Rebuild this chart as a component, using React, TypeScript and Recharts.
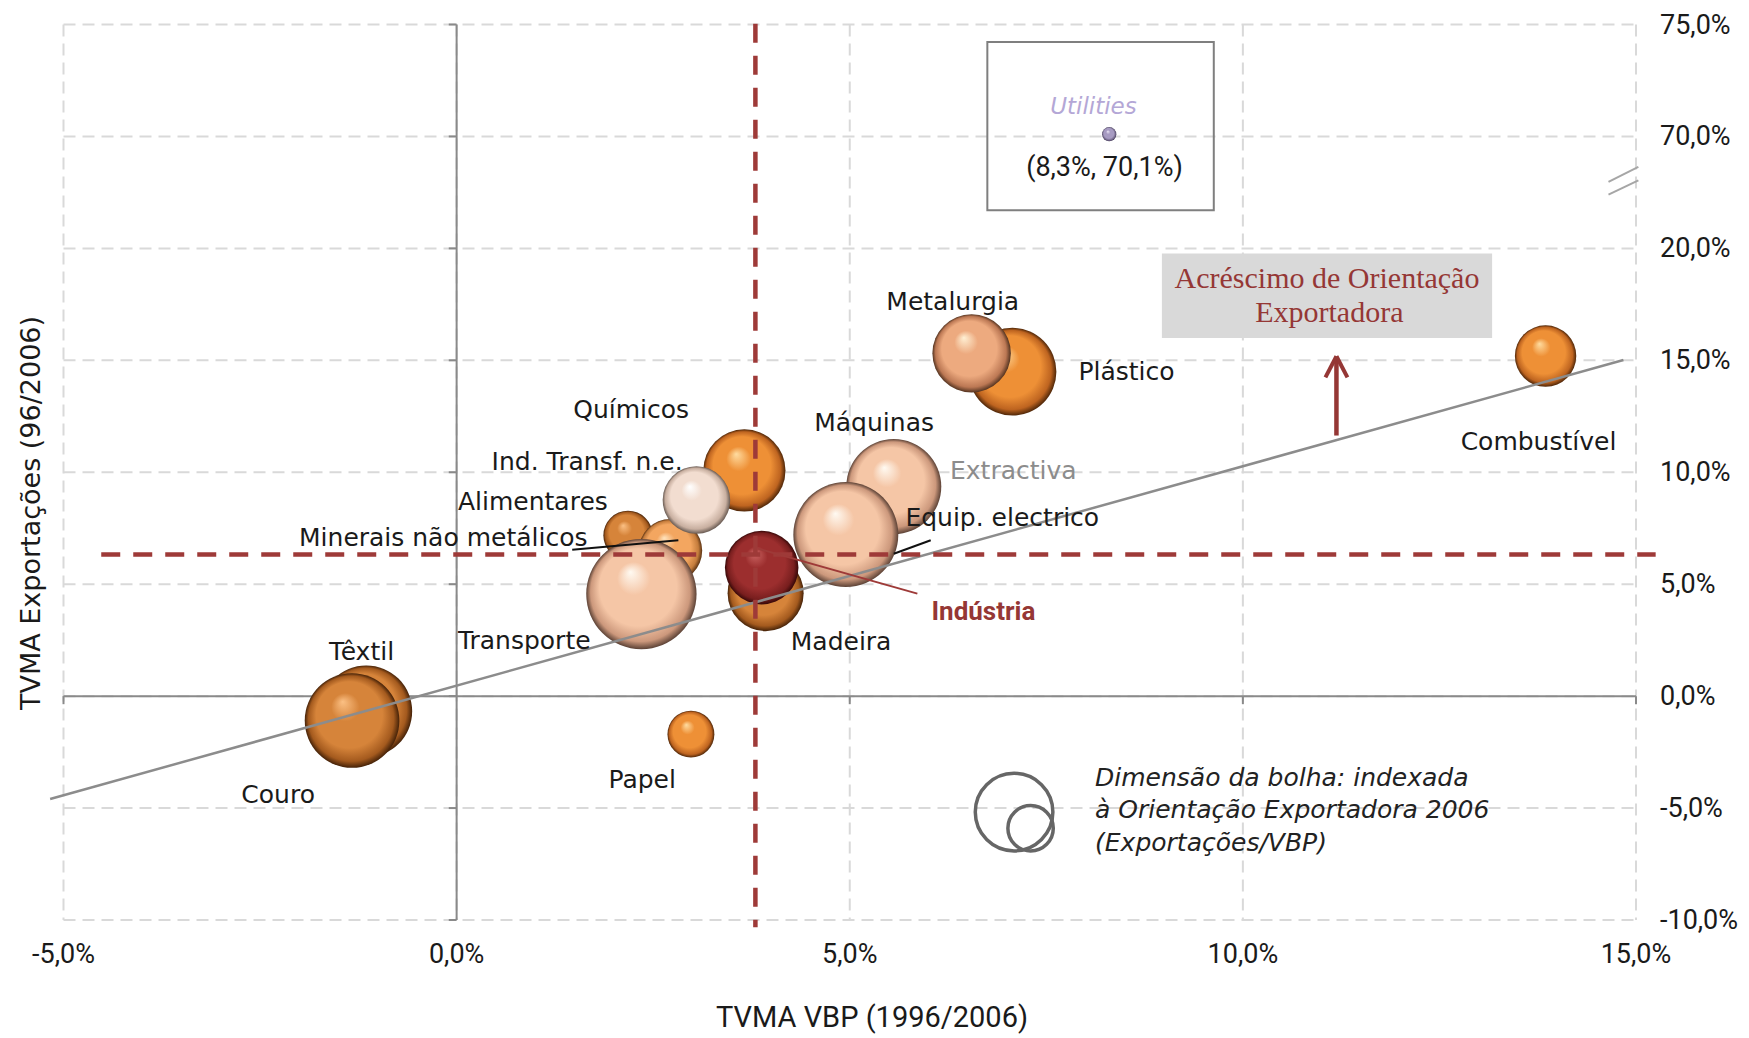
import React from 'react';
import {
  ScatterChart,
  Scatter,
  XAxis,
  YAxis,
  ZAxis,
  CartesianGrid,
  ReferenceLine,
  ReferenceArea,
  ReferenceDot,
} from 'recharts';

// sectors, drawn back to front
const sectors = [
  'Químicos',
  'Alimentares',
  'Minerais não metálicos',
  'Transporte',
  'Ind. Transf. n.e.',
  'Máquinas',
  'Equip. electrico',
  'Madeira',
  'Indústria',
  'Plástico',
  'Metalurgia',
  'Papel',
  'Combustível',
  'Têxtil',
  'Couro',
  'Utilities',
];
// TVMA VBP 1996/2006 (%)
const tvmaVbp = [3.66, 2.18, 2.72, 2.35, 3.05, 5.56, 4.95, 3.93, 3.88, 7.07, 6.55, 2.98, 13.85, -1.15, -1.33, 8.3];
// TVMA Exportações 96/2006 (%)
const tvmaExp = [10.08, 7.18, 6.5, 4.56, 8.76, 9.36, 7.22, 4.6, 5.74, 14.49, 15.31, -1.7, 15.19, -0.68, -1.09, 70.1];
// Orientação exportadora 2006 (exportações / VBP, %)
const orientacao = [40, 14.4, 23.8, 72, 27, 53.4, 65.2, 34.2, 32, 45.6, 36.4, 13, 22.3, 50, 53, 1.2];

const xTicks = [-5, 0, 5, 10, 15];
const yTicks = [-10, -5, 0, 5, 10, 15, 20, 25, 30]; // 25 and 30 stand for 70% and 75% (broken axis)

// média da indústria (linhas tracejadas)
const mediaVbp = 3.8;
const mediaExp = 6.33;
// recta de tendência
const trendSlope = 0.98;
const trendIntercept = 0.47;
const trendFrom = -5.17;
const trendTo = 14.84;

// the axis is broken between 22.5% and 67.5%
const BREAK = 22.5;
const GAP = 45;
const brk = (v: number) => (v > BREAK ? v - GAP : v);
const unbrk = (v: number) => (v > BREAK ? v + GAP : v);
const pct = (v: number) => `${v.toFixed(1).replace('.', ',')}%`;

const bubbles = sectors.map((name, i) => ({
  name,
  x: tvmaVbp[i],
  y: brk(tvmaExp[i]),
  z: orientacao[i],
  idx: i,
}));

// annotations (text anchors in data units)
const notes = [
  { text: 'Metalurgia', x: 6.31, y: 17.64, kind: 'label' },
  { text: 'Plástico', x: 8.52, y: 14.52, kind: 'label' },
  { text: 'Máquinas', x: 5.31, y: 12.24, kind: 'label' },
  { text: 'Extractiva', x: 7.08, y: 10.08, kind: 'grey' },
  { text: 'Equip. electrico', x: 6.94, y: 8.0, kind: 'label' },
  { text: 'Químicos', x: 2.22, y: 12.81, kind: 'label' },
  { text: 'Ind. Transf. n.e.', x: 1.66, y: 10.46, kind: 'label' },
  { text: 'Alimentares', x: 0.97, y: 8.71, kind: 'label' },
  { text: 'Minerais não metálicos', x: -0.17, y: 7.1, kind: 'label' },
  { text: 'Transporte', x: 0.86, y: 2.5, kind: 'label' },
  { text: 'Têxtil', x: -1.21, y: 1.99, kind: 'label' },
  { text: 'Couro', x: -2.27, y: -4.39, kind: 'label' },
  { text: 'Papel', x: 2.36, y: -3.71, kind: 'label' },
  { text: 'Madeira', x: 4.89, y: 2.44, kind: 'label' },
  { text: 'Indústria', x: 6.7, y: 3.8, kind: 'ind' },
  { text: 'Combustível', x: 13.76, y: 11.39, kind: 'label' },
  { text: 'Acréscimo de Orientação', x: 11.07, y: 18.72, kind: 'box' },
  { text: 'Exportadora', x: 11.1, y: 17.16, kind: 'box' },
  { text: 'Utilities', x: 8.1, y: 71.35, kind: 'util' },
  { text: '(8,3%, 70,1%)', x: 8.24, y: 68.62, kind: 'coord' },
  { text: 'Dimensão da bolha: indexada', x: 8.12, y: -3.62, kind: 'legend' },
  { text: 'à Orientação Exportadora 2006', x: 8.12, y: -5.08, kind: 'legend' },
  { text: '(Exportações/VBP)', x: 8.12, y: -6.52, kind: 'legend' },
].map((n) => ({ ...n, y: brk(n.y) }));

const tones: Record<string, string> = {
  'Químicos': 'orange',
  'Alimentares': 'brown',
  'Minerais não metálicos': 'light',
  'Transporte': 'peach',
  'Ind. Transf. n.e.': 'cream',
  'Máquinas': 'peach',
  'Equip. electrico': 'peach',
  'Madeira': 'brown',
  'Indústria': 'red',
  'Plástico': 'orange',
  'Metalurgia': 'salmon',
  'Papel': 'orange',
  'Combustível': 'orange',
  'Têxtil': 'brown',
  'Couro': 'brown',
  'Utilities': 'lilac',
};

// highlight, base, shade, rim
const palette: Record<string, string[]> = {
  orange: ['#FFDCA0', '#EE9036', '#BE6420', '#4E2608'],
  light: ['#FFE2BC', '#F3A660', '#C47C3C', '#5A3212'],
  brown: ['#FBC084', '#D6843A', '#A45A1E', '#452208'],
  peach: ['#FFFAF2', '#F5C6A6', '#CC987C', '#5C4236'],
  salmon: ['#FFF0D4', '#EDAA7F', '#BC7854', '#52321F'],
  cream: ['#FFFFFF', '#F2DDD0', '#C8AFA0', '#685A52'],
  red: ['#CC6664', '#9C2E2E', '#781E1E', '#360808'],
  lilac: ['#ECE6F6', '#A79BC2', '#716688', '#3A3050'],
};

const labelStyles: Record<string, any> = {
  label: { fontFamily: 'DejaVu Sans', fontSize: 25, fill: '#1a1a1a', textAnchor: 'middle' },
  grey: { fontFamily: 'DejaVu Sans', fontSize: 25, fill: '#8C8C8C', textAnchor: 'middle' },
  ind: { fontFamily: 'Roboto', fontSize: 26, fontWeight: 700, fill: '#953735', textAnchor: 'middle' },
  box: { fontFamily: 'Liberation Serif', fontSize: 30, fill: '#953735', textAnchor: 'middle' },
  util: { fontFamily: 'DejaVu Sans', fontSize: 23, fontStyle: 'italic', fill: '#B4A7D6', textAnchor: 'middle' },
  coord: { fontFamily: 'Roboto', fontSize: 27, fill: '#1a1a1a', textAnchor: 'middle' },
  legend: { fontFamily: 'DejaVu Sans', fontSize: 25, fontStyle: 'italic', fill: '#222', textAnchor: 'start' },
};

const Bubble = (props: any) => {
  const { cx, cy, width, payload } = props;
  const r = width / 2;
  const c = palette[tones[payload.name]];
  const id = `bub-${payload.idx}`;
  return (
    <g>
      <defs>
        <radialGradient id={id} cx="50%" cy="50%" r="50%" fx="40%" fy="30%">
          <stop offset="0%" stopColor={c[0]} />
          <stop offset="30%" stopColor={c[1]} />
          <stop offset="70%" stopColor={c[1]} />
          <stop offset="90%" stopColor={c[2]} />
          <stop offset="100%" stopColor={c[3]} />
        </radialGradient>
      </defs>
      <circle cx={cx} cy={cy} r={r} fill={`url(#${id})`} />
    </g>
  );
};

const Note = (props: any) => {
  const { cx, cy, payload } = props;
  return (
    <text x={cx} y={cy} dominantBaseline="central" {...labelStyles[payload.kind]}>
      {payload.text}
    </text>
  );
};

const XTick = (props: any) => {
  const { x, y, payload } = props;
  return (
    <text x={x} y={y + 34} textAnchor="middle" dominantBaseline="central" fontFamily="Roboto" fontSize={27} fill="#1a1a1a">
      {pct(payload.value)}
    </text>
  );
};

const YTick = (props: any) => {
  const { x, y, payload } = props;
  return (
    <text x={x} y={y} textAnchor="start" dominantBaseline="central" fontFamily="Roboto" fontSize={27} fill="#1a1a1a">
      {pct(unbrk(payload.value))}
    </text>
  );
};

const AXIS = '#8A8A8A';
const RED = '#9E3A38';

const App: React.FC = () => {
  return (
    <div style={{ position: 'absolute', left: 0, top: 0, width: 1749, height: 1038, background: '#fff' }}>
      <ScatterChart width={1749} height={1038} margin={{ top: 24.5, right: 10, bottom: 58, left: 63.5 }}>
        <CartesianGrid stroke="#D9D9D9" strokeDasharray="12 7" strokeWidth={2} />
        <XAxis
          type="number"
          dataKey="x"
          domain={[-5, 15]}
          ticks={xTicks}
          axisLine={false}
          tickLine={false}
          tickSize={0}
          tickMargin={0}
          height={60}
          tick={<XTick />}
        />
        <YAxis
          type="number"
          dataKey="y"
          orientation="right"
          domain={[-10, 30]}
          ticks={yTicks}
          axisLine={false}
          tickLine={false}
          tickSize={0}
          tickMargin={24}
          width={103}
          tick={<YTick />}
        />
        <ZAxis type="number" dataKey="z" domain={[0, 100]} range={[0, 13273]} />

        {/* eixos no zero */}
        <ReferenceLine x={0} stroke={AXIS} strokeWidth={2} />
        <ReferenceLine y={0} stroke={AXIS} strokeWidth={2} />
        {yTicks.map((t) => (
          <ReferenceLine key={`yt${t}`} segment={[{ x: -0.1, y: t }, { x: 0, y: t }]} stroke={AXIS} strokeWidth={2} ifOverflow="visible" />
        ))}
        {xTicks.filter((t) => t !== 0).map((t) => (
          <ReferenceLine key={`xt${t}`} segment={[{ x: t, y: 0 }, { x: t, y: -0.36 }]} stroke={AXIS} strokeWidth={2} ifOverflow="visible" />
        ))}
        {/* quebra do eixo */}
        <ReferenceLine segment={[{ x: 14.65, y: 22.97 }, { x: 15.03, y: 23.64 }]} stroke="#A6A6A6" strokeWidth={2} ifOverflow="visible" />
        <ReferenceLine segment={[{ x: 14.65, y: 22.4 }, { x: 15.03, y: 23.04 }]} stroke="#A6A6A6" strokeWidth={2} ifOverflow="visible" />

        {/* caixas */}
        <ReferenceArea x1={6.75} x2={9.63} y1={21.7} y2={29.22} fill="none" stroke="#7F7F7F" strokeWidth={2} ifOverflow="visible" />
        <ReferenceArea x1={8.97} x2={13.17} y1={16.0} y2={19.77} fill="#D9D9D9" fillOpacity={1} stroke="none" ifOverflow="visible" />

        {/* legenda da dimensão da bolha */}
        <ReferenceDot x={7.09} y={-5.18} r={38.8} fill="none" stroke="#666" strokeWidth={3.5} ifOverflow="visible" />
        <ReferenceDot x={7.3} y={-5.9} r={22.7} fill="none" stroke="#666" strokeWidth={3.5} ifOverflow="visible" />

        <Scatter data={bubbles} shape={<Bubble />} isAnimationActive={false} />

        {/* tendência e médias */}
        <ReferenceLine
          segment={[
            { x: trendFrom, y: trendIntercept + trendSlope * trendFrom },
            { x: trendTo, y: trendIntercept + trendSlope * trendTo },
          ]}
          stroke="#8C8C8C"
          strokeWidth={2.5}
          ifOverflow="visible"
          zIndex={700}
        />
        <ReferenceLine segment={[{ x: -4.52, y: mediaExp }, { x: 15.25, y: mediaExp }]} stroke={RED} strokeWidth={4.5} strokeDasharray="19 13" ifOverflow="visible" zIndex={700} />
        <ReferenceLine segment={[{ x: mediaVbp, y: 30.03 }, { x: mediaVbp, y: -10.32 }]} stroke={RED} strokeWidth={4.5} strokeDasharray="19 13" ifOverflow="visible" zIndex={700} />

        {/* linhas de chamada */}
        <ReferenceLine segment={[{ x: 1.47, y: 6.54 }, { x: 2.82, y: 6.96 }]} stroke="#111" strokeWidth={2} ifOverflow="visible" zIndex={700} />
        <ReferenceLine segment={[{ x: 6.03, y: 6.96 }, { x: 5.56, y: 6.36 }]} stroke="#111" strokeWidth={2} ifOverflow="visible" zIndex={700} />
        <ReferenceLine segment={[{ x: 3.83, y: 6.59 }, { x: 5.86, y: 4.58 }]} stroke={RED} strokeWidth={2} ifOverflow="visible" zIndex={700} />

        {/* seta */}
        <ReferenceLine segment={[{ x: 11.19, y: 11.64 }, { x: 11.19, y: 15.1 }]} stroke="#953735" strokeWidth={4.5} ifOverflow="visible" zIndex={700} />
        <ReferenceLine segment={[{ x: 11.05, y: 14.24 }, { x: 11.19, y: 15.18 }]} stroke="#953735" strokeWidth={4} ifOverflow="visible" zIndex={700} />
        <ReferenceLine segment={[{ x: 11.33, y: 14.24 }, { x: 11.19, y: 15.18 }]} stroke="#953735" strokeWidth={4} ifOverflow="visible" zIndex={700} />

        <Scatter data={notes} shape={<Note />} isAnimationActive={false} zIndex={1500} />
      </ScatterChart>

      <div
        style={{
          position: 'absolute',
          left: 872,
          top: 1017,
          transform: 'translate(-50%, -50%)',
          fontFamily: 'Roboto',
          fontSize: 29,
          color: '#1a1a1a',
          whiteSpace: 'nowrap',
        }}
      >
        TVMA VBP (1996/2006)
      </div>
      <div
        style={{
          position: 'absolute',
          left: 30,
          top: 513,
          transform: 'translate(-50%, -50%) rotate(-90deg)',
          fontFamily: 'DejaVu Sans',
          fontSize: 27,
          color: '#1a1a1a',
          whiteSpace: 'nowrap',
        }}
      >
        TVMA Exportações (96/2006)
      </div>
    </div>
  );
};

export default App;
